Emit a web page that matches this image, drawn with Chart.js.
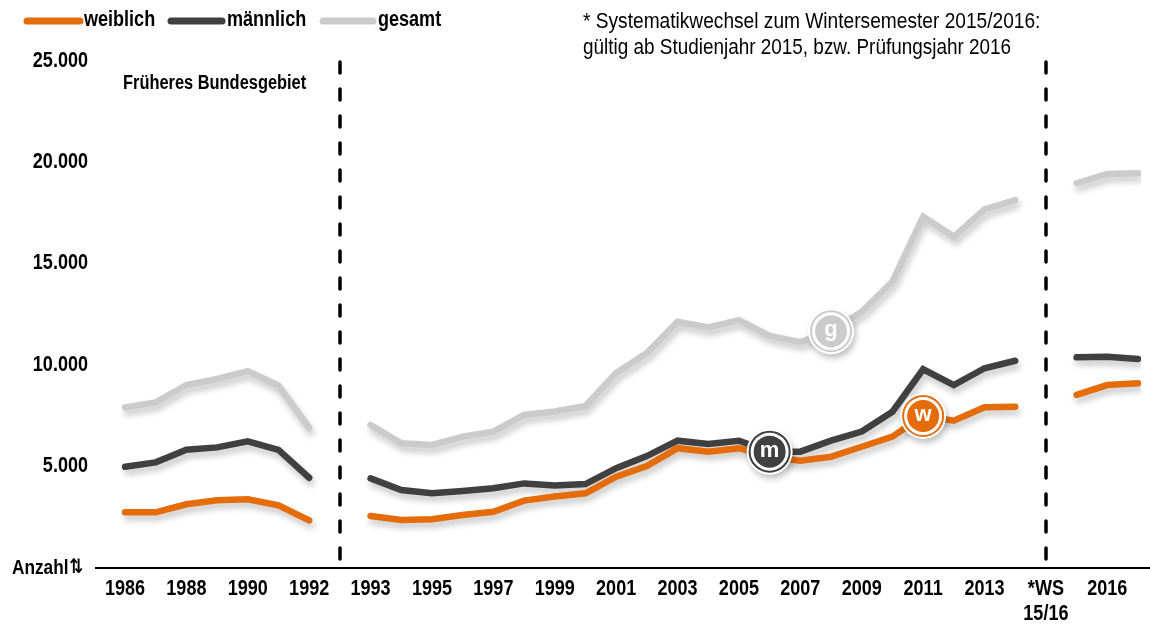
<!DOCTYPE html>
<html>
<head>
<meta charset="utf-8">
<script src="https://cdn.jsdelivr.net/npm/chart.js@4.4.1/dist/chart.umd.min.js"></script>
<style>
  html, body { margin: 0; padding: 0; background: #fff; }
  #wrap { width: 1150px; height: 628px; position: relative; }
</style>
</head>
<body>
<div id="wrap"><canvas id="chart" width="1150" height="628"></canvas></div>
<script>
// ====== data ======
const years = [
  "1986","1987","1988","1989","1990","1991","1992", "",
  "1993","1994","1995","1996","1997","1998","1999","2000","2001","2002","2003",
  "2004","2005","2006","2007","2008","2009","2010","2011","2012","2013","2014", "WS",
  "2015","2016","2017"
];
const tickLabels = [
  "1986","","1988","","1990","","1992","",
  "1993","","1995","","1997","","1999","","2001","","2003",
  "","2005","","2007","","2009","","2011","","2013","", ["*WS","15/16"],
  "","2016",""
];
const weiblich = [
  2700, 2700, 3100, 3300, 3350, 3050, 2300, null,
  2520, 2320, 2360, 2570, 2730, 3280, 3480, 3640, 4460, 4990, 5870,
  5700, 5870, 5450, 5250, 5450, 5940, 6440, 7460, 7230, 7890, 7920, null,
  8500, 8990, 9080
];
const maennlich = [
  4950, 5170, 5790, 5910, 6210, 5790, 4410, null,
  4380, 3800, 3640, 3750, 3890, 4130, 4030, 4100, 4880, 5480, 6240,
  6080, 6240, 5700, 5700, 6240, 6690, 7670, 9770, 8990, 9820, 10190, null,
  10360, 10390, 10280
];
const gesamt = [
  7880, 8130, 8990, 9290, 9680, 8960, 6880, null,
  7020, 6110, 6030, 6440, 6690, 7510, 7680, 7960, 9590, 10570, 12120,
  11840, 12200, 11420, 11110, 11650, 12610, 14100, 17310, 16320, 17670, 18130, null,
  18960, 19420, 19450
];
const yTicks = [0, 5000, 10000, 15000, 20000, 25000];
// where the dashed separators and the round badges sit
const breakIndex = [7, 30];
const badges = [
  { ds: 0, index: 26, text: "w" },
  { ds: 1, index: 21, text: "m" },
  { ds: 2, index: 23, text: "g" }
];
// =======================================

const ORANGE = "#E46C0A";
const DARK   = "#404040";
const GREY   = "#CBCBCB";
const SANS = "'Liberation Sans', Arial, sans-serif";
const SQUEEZE = 0.82;   // no Arial Narrow here, so squeeze Liberation Sans

function fmt(v) {
  return v.toString().replace(/\B(?=(\d{3})+(?!\d))/g, ".");
}

// draws condensed text, returns its drawn width
function narrowText(ctx, text, x, y, font, align, squeeze) {
  const sq = squeeze || SQUEEZE;
  ctx.save();
  ctx.font = font;
  ctx.fillStyle = "#000";
  ctx.textAlign = align || "left";
  ctx.textBaseline = "middle";
  ctx.translate(x, y);
  ctx.scale(sq, 1);
  ctx.fillText(text, 0, 0);
  const w = ctx.measureText(text).width * sq;
  ctx.restore();
  return w;
}

// soft drop shadow under each line
const shadowPlugin = {
  id: "shadow",
  beforeDatasetDraw(chart) {
    const ctx = chart.ctx;
    ctx.save();
    ctx.shadowColor = "rgba(0,0,0,0.22)";
    ctx.shadowBlur = 6;
    ctx.shadowOffsetX = 2;
    ctx.shadowOffsetY = 5;
  },
  afterDatasetDraw(chart) {
    chart.ctx.restore();
  }
};

// separators, axis line, tick texts, legend, notes and badges
const extrasPlugin = {
  id: "extras",
  beforeDatasetsDraw(chart) {
    const ctx = chart.ctx;
    const x = chart.scales.x;
    const y = chart.scales.y;
    const area = chart.chartArea;
    ctx.save();
    // axis line
    ctx.strokeStyle = "#000";
    ctx.lineWidth = 2;
    ctx.beginPath();
    ctx.moveTo(95, area.bottom + 1);
    ctx.lineTo(1150, area.bottom + 1);
    ctx.stroke();
    // dashed separators
    ctx.lineWidth = 3.5;
    ctx.lineCap = "round";
    ctx.setLineDash([11, 16]);
    breakIndex.forEach(i => {
      const px = Math.round(x.getPixelForValue(i));
      ctx.beginPath();
      ctx.moveTo(px, area.top + 1);
      ctx.lineTo(px, area.bottom + 3);
      ctx.stroke();
    });
    ctx.restore();

    // tick labels
    const tickFont = "bold 22px " + SANS;
    tickLabels.forEach((lab, i) => {
      const lines = Array.isArray(lab) ? lab : [lab];
      const px = x.getPixelForValue(i);
      lines.forEach((t, k) => {
        if (t) narrowText(ctx, t, px, area.bottom + 22 + k * 25, tickFont, "center");
      });
    });
    yTicks.forEach(v => {
      if (v === 0) return;
      narrowText(ctx, fmt(v), 88, y.getPixelForValue(v), "bold 22px " + SANS, "right");
    });
    // y axis title in place of the zero
    const w = narrowText(ctx, "Anzahl", 12, area.bottom + 1, "bold 21px " + SANS, "left");
    narrowText(ctx, "⇅", 12 + w + 1, area.bottom + 1, "bold 20px 'DejaVu Sans', sans-serif", "left");
  },
  afterDatasetsDraw(chart) {
    const ctx = chart.ctx;
    ctx.save();

    // legend
    const items = [
      { c: ORANGE, t: "weiblich", x1: 27, x2: 80, tx: 84 },
      { c: DARK,   t: "männlich", x1: 171, x2: 222, tx: 227 },
      { c: GREY,   t: "gesamt",   x1: 323, x2: 373, tx: 378 }
    ];
    items.forEach(it => {
      ctx.strokeStyle = it.c;
      ctx.lineWidth = 7;
      ctx.lineCap = "round";
      ctx.beginPath();
      ctx.moveTo(it.x1, 21);
      ctx.lineTo(it.x2, 21);
      ctx.stroke();
      narrowText(ctx, it.t, it.tx, 20, "bold 22px " + SANS, "left");
    });

    // notes
    narrowText(ctx, "Früheres Bundesgebiet", 123, 83, "bold 20px " + SANS, "left");
    narrowText(ctx, "* Systematikwechsel zum Wintersemester 2015/2016:", 583, 22, "22px " + SANS, "left", 0.87);
    narrowText(ctx, "gültig ab Studienjahr 2015, bzw. Prüfungsjahr 2016", 583, 48, "22px " + SANS, "left", 0.86);

    // badges
    badges.forEach(b => {
      const ds = chart.data.datasets[b.ds];
      const pt = chart.getDatasetMeta(b.ds).data[b.index];
      const col = ds.borderColor;
      ctx.save();
      ctx.shadowColor = "rgba(0,0,0,0.25)";
      ctx.shadowBlur = 6;
      ctx.shadowOffsetX = 2;
      ctx.shadowOffsetY = 4;
      ctx.fillStyle = "#fff";
      ctx.beginPath();
      ctx.arc(pt.x, pt.y, 23, 0, Math.PI * 2);
      ctx.fill();
      ctx.restore();
      ctx.strokeStyle = col;
      ctx.lineWidth = 2;
      ctx.beginPath();
      ctx.arc(pt.x, pt.y, 20, 0, Math.PI * 2);
      ctx.stroke();
      ctx.fillStyle = col;
      ctx.beginPath();
      ctx.arc(pt.x, pt.y, 16, 0, Math.PI * 2);
      ctx.fill();
      ctx.fillStyle = "#fff";
      ctx.font = "bold 22px " + SANS;
      ctx.textAlign = "center";
      ctx.textBaseline = "middle";
      ctx.fillText(b.text, pt.x, pt.y - 1);
    });
    ctx.restore();
  }
};

function lineSet(label, data, color) {
  return {
    label: label,
    data: data,
    borderColor: color,
    backgroundColor: color,
    borderWidth: 6.5,
    borderCapStyle: "round",
    borderJoinStyle: "miter",
    pointRadius: 0,
    pointHoverRadius: 0,
    tension: 0,
    spanGaps: false,
    fill: false
  };
}

new Chart(document.getElementById("chart"), {
  type: "line",
  data: {
    labels: years,
    datasets: [
      lineSet("weiblich", weiblich, ORANGE),
      lineSet("männlich", maennlich, DARK),
      lineSet("gesamt", gesamt, GREY)
    ]
  },
  options: {
    responsive: false,
    animation: false,
    layout: { padding: { top: 61, right: 12, bottom: 0, left: 0 } },
    plugins: {
      legend: { display: false },
      tooltip: { enabled: false }
    },
    scales: {
      x: {
        offset: false,
        grid: { display: false, drawTicks: false },
        border: { display: false },
        afterFit(scale) { scale.height = 61; },
        ticks: { display: false, autoSkip: false, maxRotation: 0 }
      },
      y: {
        min: 0,
        max: 25000,
        grid: { display: false, drawTicks: false },
        border: { display: false },
        afterFit(scale) { scale.width = 125; },
        afterBuildTicks(scale) { scale.ticks = yTicks.map(v => ({ value: v })); },
        ticks: { display: false }
      }
    }
  },
  plugins: [shadowPlugin, extrasPlugin]
});
</script>
</body>
</html>
